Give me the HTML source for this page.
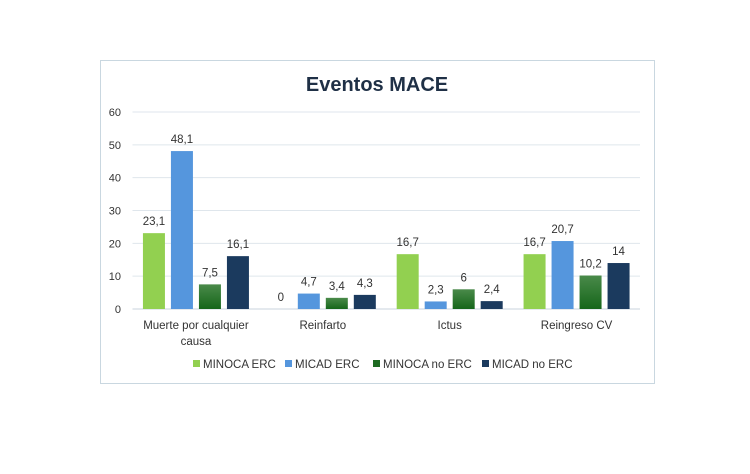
<!DOCTYPE html>
<html><head><meta charset="utf-8"><style>
body{margin:0;background:#fff;width:750px;height:469px;overflow:hidden;font-family:"Liberation Sans",sans-serif}
</style></head><body>
<svg width="750" height="469">
<defs><linearGradient id="gg" x1="0" y1="0" x2="0" y2="1"><stop offset="0" stop-color="#4a8a4a"/><stop offset="1" stop-color="#15661a"/></linearGradient></defs>
<rect x="100.5" y="60.5" width="554" height="323" fill="#fff" stroke="#c9d7e0"/>
<text x="377" y="91" text-anchor="middle" font-size="20" font-weight="bold" fill="#1f3046">Eventos MACE</text>
<g id="grid"></g><g id="bars"></g><g id="labels"></g>
<g id="legend"></g>
</svg>
<script>
const categories=[["Muerte por cualquier","causa"],["Reinfarto"],["Ictus"],["Reingreso CV"]];
const seriesNames=["MINOCA ERC","MICAD ERC","MINOCA no ERC","MICAD no ERC"];
const minocaErc=[23.1,0,16.7,16.7];
const micadErc=[48.1,4.7,2.3,20.7];
const minocaNoErc=[7.5,3.4,6,10.2];
const micadNoErc=[16.1,4.3,2.4,14];
const yTicks=[0,10,20,30,40,50,60];
const series=[minocaErc,micadErc,minocaNoErc,micadNoErc];
const colors=["#92d050","#5596dd","url(#gg)","#1b3a5e"];
const legColors=["#92d050","#5596dd","#1e6b22","#1b3a5e"];
const NS="http://www.w3.org/2000/svg";
const x0=132.5,x1=640,y0=309,y60=112;
const y=v=>y0-(v/60)*(y0-y60);
const cw=(x1-x0)/categories.length;
function mk(t,a,p){const e=document.createElementNS(NS,t);for(const k in a)e.setAttribute(k,a[k]);p.appendChild(e);return e;}
const grid=document.getElementById('grid'),bars=document.getElementById('bars'),labels=document.getElementById('labels'),legend=document.getElementById('legend');
yTicks.forEach(t=>{
 const l=mk('line',{x1:x0,x2:x1,y1:y(t),y2:y(t),stroke:t==0?'#c8d3dc':'#dfe6ec','stroke-width':1},grid);
 
 
 const tx=mk('text',{x:121,y:y(t)+4,'text-anchor':'end','font-size':11,fill:'#333'},grid);
 tx.textContent=t;
 
 
});
const bw=22,gap=6;
categories.forEach((c,i)=>{
 const cx=x0+cw*(i+0.5);
 series.forEach((s,j)=>{
  const bx=cx-(4*bw+3*gap)/2+j*(bw+gap);
  const v=s[i];
  const r=mk('rect',{x:bx,y:y(v),width:bw,height:y0-y(v),fill:colors[j]},bars);
  
  
  const t=mk('text',{x:bx+bw/2,y:y(v)-8,'text-anchor':'middle','font-size':11.5,fill:'#333'},labels);
  t.textContent=String(v).replace('.',',');
  
  
 });
 c.forEach((line,k)=>{
  const t=mk('text',{x:cx,y:329+k*16,'text-anchor':'middle','font-size':11.5,fill:'#333'},labels);
  t.textContent=line;
  
  
 });
});
const lx=[193,285,373,482];
seriesNames.forEach((n,j)=>{
 const g=mk('g',{},legend);
 
 
 mk('rect',{x:lx[j],y:360,width:7,height:7,fill:legColors[j]},g);
 const t=mk('text',{x:lx[j]+10,y:368,'font-size':11.5,fill:'#333'},g);
 t.textContent=n;
});
</script>
</body></html>
